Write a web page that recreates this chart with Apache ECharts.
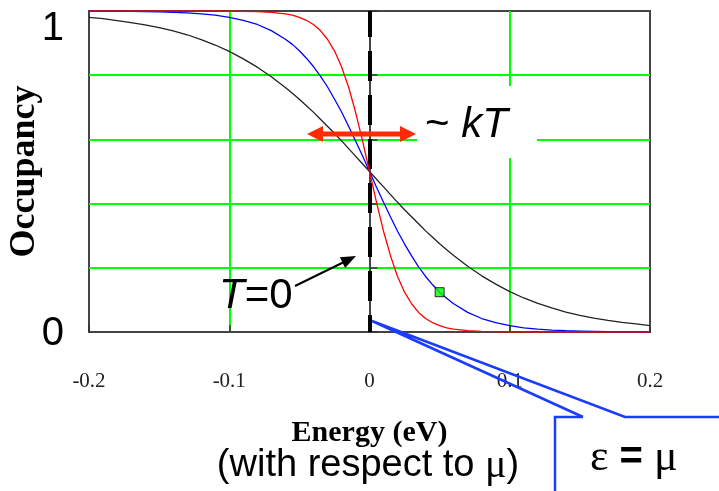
<!DOCTYPE html>
<html><head><meta charset="utf-8">
<script src="https://cdn.jsdelivr.net/npm/echarts@6/dist/echarts.min.js"></script>
<style>html,body{margin:0;padding:0;background:#fff}#c{width:719px;height:491px}</style>
</head><body><div id="c"></div>
<script>
// Energy (eV, relative to mu) sample points
const energies = [-0.2,-0.19,-0.18,-0.17,-0.16,-0.15,-0.14,-0.13,-0.12,-0.11,-0.1,-0.09,-0.08,-0.07,
  -0.06,-0.055,-0.05,-0.045,-0.04,-0.035,-0.03,-0.025,-0.02,-0.015,-0.01,-0.005,0,0.005,0.01,0.015,0.02,0.025,0.03,0.035,0.04,0.045,0.05,0.055,0.06,
  0.07,0.08,0.09,0.1,0.11,0.12,0.13,0.14,0.15,0.16,0.17,0.18,0.19,0.2];
// Occupancy
const occBlack = [0.980,0.976,0.970,0.964,0.957,0.948,0.938,0.926,0.911,0.894,0.874,0.851,0.825,0.795,
  0.762,0.744,0.725,0.705,0.685,0.663,0.641,0.619,0.596,0.572,0.548,0.524,0.500,0.476,0.452,0.428,0.404,0.381,0.359,0.337,0.315,0.295,0.275,0.256,0.238,
  0.205,0.175,0.149,0.126,0.106,0.089,0.075,0.062,0.052,0.043,0.036,0.030,0.025,0.020];
const occBlue = [1.000,0.999,0.999,0.999,0.998,0.997,0.996,0.994,0.991,0.987,0.980,0.971,0.958,0.939,
  0.912,0.896,0.876,0.853,0.827,0.797,0.764,0.726,0.686,0.642,0.596,0.549,0.500,0.451,0.404,0.358,0.314,0.274,0.237,0.203,0.173,0.147,0.124,0.105,0.088,
  0.061,0.042,0.029,0.020,0.013,0.009,0.006,0.004,0.003,0.002,0.001,0.001,0.001,0.000];
const occRed = [1.000,1.000,1.000,1.000,1.000,1.000,1.000,1.000,1.000,1.000,1.000,0.999,0.998,0.996,
  0.991,0.987,0.980,0.971,0.958,0.939,0.912,0.876,0.827,0.764,0.686,0.596,0.500,0.404,0.314,0.237,0.173,0.124,0.088,0.061,0.042,0.029,0.020,0.013,0.009,
  0.004,0.002,0.001,0.000,0.000,0.000,0.000,0.000,0.000,0.000,0.000,0.000,0.000,0.000];
const xTickLabels = ['-0.2','-0.1','0','0.1','0.2'];
const yTickLabels = {0:'0', 1:'1'};
const markerEnergy = 0.05;

const pairs = (ys) => energies.map((e,i)=>[e, ys[i]]);
const markerIdx = energies.indexOf(markerEnergy);

const chart = echarts.init(document.getElementById('c'), null, {renderer:'canvas'});
const sans = 'Liberation Sans, Arial, sans-serif';
const serif = 'Liberation Serif, Times New Roman, serif';
const blueC = '#1a3cff';
chart.setOption({
  animation: false,
  backgroundColor: '#fff',
  grid: {left: 89, right: 69, top: 11, bottom: 159, outerBoundsMode: 'none', containLabel: false,
    show: true, borderColor: '#444', borderWidth: 2, backgroundColor: 'transparent'},
  xAxis: {
    type: 'value', min: -0.2, max: 0.2, interval: 0.1,
    axisLine: {lineStyle: {color: '#444', width: 2}},
    axisTick: {inside: true, length: 7, lineStyle: {color: '#333', width: 1.5}},
    axisLabel: {margin: 39, fontFamily: serif, fontSize: 21, color: '#222',
      formatter: (v, i) => xTickLabels[i]},
    splitLine: {show: true, showMinLine: false, showMaxLine: false, lineStyle: {color: '#00ff00', width: 2}},
    name: 'Energy (eV)', nameLocation: 'middle', nameGap: 86, nameMoveOverlap: false,
    nameTextStyle: {fontFamily: serif, fontWeight: 'bold', fontSize: 30, color: '#000'}
  },
  yAxis: {
    type: 'value', min: 0, max: 1, interval: 0.2,
    axisLine: {show: true, lineStyle: {color: '#444', width: 2}},
    axisTick: {show: true, inside: true, length: 8, lineStyle: {color: '#333', width: 1.5}},
    axisLabel: {margin: 25, fontFamily: sans, fontSize: 40, color: '#000',
      formatter: (v) => v === 1 ? '{one|' + yTickLabels[1] + '}' : (v === 0 ? '{zero|' + yTickLabels[0] + '}' : ''),
      rich: {one: {fontFamily: sans, fontSize: 40, color: '#000', padding: [36,0,0,0]},
             zero: {fontFamily: sans, fontSize: 40, color: '#000', padding: [4,0,0,0]}}},
    splitLine: {show: true, showMinLine: false, showMaxLine: false, lineStyle: {color: '#00ff00', width: 2}},
    name: 'Occupancy', nameLocation: 'middle', nameRotate: 90, nameGap: 46, nameMoveOverlap: false,
    nameTextStyle: {fontFamily: serif, fontWeight: 'bold', fontSize: 36, color: '#000'}
  },
  series: [
    {type: 'line', data: pairs(occBlack), showSymbol: false, smooth: false,
     lineStyle: {color: '#222', width: 1.3}, z: 3,
     markLine: {silent: true, symbol: 'none', label: {show: false},
       lineStyle: {color: '#000', width: 4, type: [30, 14], dashOffset: 4},
       data: [[{coord: [0, 1]}, {coord: [0, 0]}]]}},
    {type: 'line', data: pairs(occBlue), showSymbol: false, smooth: false,
     lineStyle: {color: '#0000ff', width: 1.3}, z: 4},
    {type: 'line', data: pairs(occRed), showSymbol: false, smooth: false,
     lineStyle: {color: '#ff0000', width: 1.3}, z: 5},
    {type: 'scatter', data: [[energies[markerIdx], occBlue[markerIdx]]], symbol: 'rect', symbolSize: 9,
     itemStyle: {color: '#00ff00', borderColor: '#000', borderWidth: 1}, z: 6}
  ],
  graphic: [
    // white backdrop behind "~ kT"
    {type: 'rect', z: 100, shape: {x: 417, y: 86, width: 120, height: 72}, style: {fill: '#fff'}},
    {type: 'text', z: 101, style: {x: 425, y: 125, text: '{n|~ }{i|kT}', verticalAlign: 'middle',
      rich: {n: {fontFamily: sans, fontSize: 42, fill: '#000'}, i: {fontFamily: sans, fontSize: 42, fontStyle: 'italic', fill: '#000'}}}},
    // red double arrow
    {type: 'line', z: 102, shape: {x1: 320, y1: 134, x2: 403, y2: 134}, style: {stroke: '#ff2a00', lineWidth: 5}},
    {type: 'polygon', z: 102, shape: {points: [[307,134],[323,126],[323,142]]}, style: {fill: '#ff2a00'}},
    {type: 'polygon', z: 102, shape: {points: [[416,134],[400,126],[400,142]]}, style: {fill: '#ff2a00'}},
    // T=0 label and arrow
    {type: 'text', z: 101, style: {x: 219, y: 296, text: '{i|T}{n|=0}', verticalAlign: 'middle',
      rich: {n: {fontFamily: sans, fontSize: 42, fill: '#000'}, i: {fontFamily: sans, fontSize: 42, fontStyle: 'italic', fill: '#000'}}}},
    {type: 'line', z: 102, shape: {x1: 295, y1: 286, x2: 344, y2: 262}, style: {stroke: '#000', lineWidth: 2}},
    {type: 'polygon', z: 102, shape: {points: [[356,256],[345.1,268.0],[339.9,257.2]]}, style: {fill: '#000'}},
    // (with respect to mu)
    {type: 'text', z: 101, style: {x: 368, y: 466, text: '{n|(with respect to }{g|μ}{n|)}', align: 'center', verticalAlign: 'middle',
      rich: {n: {fontFamily: sans, fontSize: 38, fill: '#000'}, g: {fontFamily: serif, fontSize: 40, fill: '#000'}}}},
    // callout box
    {type: 'rect', z: 110, shape: {x: 555, y: 417, width: 180, height: 90}, style: {fill: '#fff'}},
    {type: 'polyline', z: 111, shape: {points: [[583,417],[555,417],[555,500]]}, style: {stroke: blueC, lineWidth: 2.5, fill: null}},
    {type: 'polyline', z: 111, shape: {points: [[583,417],[372,321],[625,417],[730,417]]}, style: {stroke: blueC, lineWidth: 2.5, fill: null, lineJoin: 'miter'}},
    {type: 'text', z: 112, style: {x: 590, y: 458, text: '{g|ε}{s| = }{g|μ}', verticalAlign: 'middle',
      rich: {g: {fontFamily: serif, fontSize: 44, fill: '#000'}, s: {fontFamily: sans, fontSize: 40, fontWeight: 'bold', fill: '#000'}}}}
  ]
});
</script></body></html>
